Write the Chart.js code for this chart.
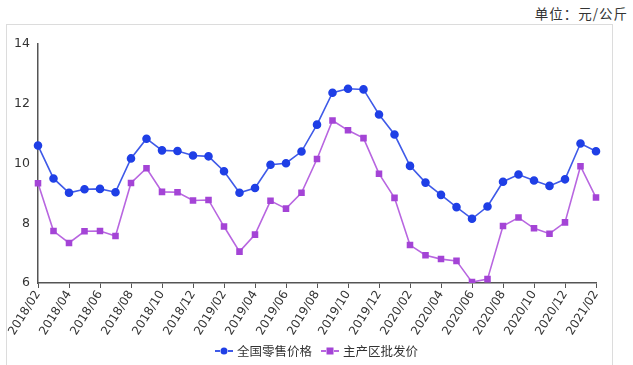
<!DOCTYPE html>
<html>
<head>
<meta charset="utf-8">
<script src="https://cdn.jsdelivr.net/npm/chart.js@4"></script>
<style>
  html, body { margin: 0; padding: 0; background: #fff; }
  #wrap { position: relative; width: 633px; height: 365px; overflow: hidden; }
  #frame { position: absolute; left: 6px; top: 24px; width: 607px; height: 360px; border: 1px solid #dcdcdc; box-sizing: border-box; }
  #unit { position: absolute; right: 5px; top: 3px; font: 13.5px "Noto Sans CJK SC", sans-serif; color: #333; letter-spacing: 1px; }
  canvas { position: absolute; left: 0; top: 0; }
</style>
</head>
<body>
<div id="wrap">
  <div id="frame"></div>
  <div id="unit">单位：元/公斤</div>
  <canvas id="c" width="633" height="365"></canvas>
</div>
<script>
// months 2018/02 .. 2021/02
const months = [
  "2018/02","2018/03","2018/04","2018/05","2018/06","2018/07","2018/08","2018/09","2018/10","2018/11","2018/12",
  "2019/01","2019/02","2019/03","2019/04","2019/05","2019/06","2019/07","2019/08","2019/09","2019/10","2019/11","2019/12",
  "2020/01","2020/02","2020/03","2020/04","2020/05","2020/06","2020/07","2020/08","2020/09","2020/10","2020/11","2020/12",
  "2021/01","2021/02"
];
const retail = [10.60, 9.50, 9.02, 9.14, 9.15, 9.04, 10.17, 10.83, 10.44, 10.42, 10.27,
  10.24, 9.74, 9.02, 9.18, 9.96, 10.01, 10.40, 11.30, 12.37, 12.50, 12.48, 11.64,
  10.97, 9.92, 9.36, 8.95, 8.54, 8.15, 8.56, 9.39, 9.63, 9.43, 9.25, 9.47,
  10.67, 10.41];
const wholesale = [9.34, 7.74, 7.34, 7.73, 7.74, 7.57, 9.35, 9.84, 9.05, 9.04, 8.76,
  8.78, 7.89, 7.05, 7.62, 8.75, 8.49, 9.02, 10.15, 11.44, 11.11, 10.85, 9.66,
  8.85, 7.27, 6.93, 6.80, 6.74, 6.03, 6.13, 7.91, 8.19, 7.83, 7.65, 8.03,
  9.91, 8.86];
const yTicks = [6, 8, 10, 12, 14];

const BLUE = "#1f3fe6", BLUE_LINE = "#3f5ae8";
const PURPLE = "#a444d6", PURPLE_LINE = "#b866e0";

// legend drawn by hand so it shows line + marker
const bottomLegend = {
  id: "bottomLegend",
  afterDraw(chart) {
    const c = chart.ctx;
    const items = [
      { text: "全国零售价格", line: BLUE_LINE, fill: BLUE, style: "circle" },
      { text: "主产区批发价", line: PURPLE_LINE, fill: PURPLE, style: "rect" }
    ];
    const y = 351;
    let x = 215;
    c.save();
    c.font = '12.5px "Noto Sans CJK SC", sans-serif';
    c.textBaseline = "middle";
    items.forEach(it => {
      c.strokeStyle = it.line;
      c.lineWidth = 2;
      c.beginPath(); c.moveTo(x, y); c.lineTo(x + 5, y); c.stroke();
      c.beginPath(); c.moveTo(x + 13, y); c.lineTo(x + 18, y); c.stroke();
      c.fillStyle = it.fill;
      if (it.style === "circle") {
        c.beginPath(); c.arc(x + 9, y, 3.5, 0, Math.PI * 2); c.fill();
      } else {
        c.fillRect(x + 5.5, y - 3.5, 7, 7);
      }
      c.fillStyle = "#333";
      c.fillText(it.text, x + 22, y);
      x += 22 + c.measureText(it.text).width + 9;
    });
    c.restore();
  }
};

new Chart(document.getElementById("c"), {
  type: "line",
  data: {
    labels: months,
    datasets: [
      { label: "全国零售价格", data: retail, borderColor: BLUE_LINE, backgroundColor: BLUE,
        pointBackgroundColor: BLUE, pointBorderColor: BLUE, pointStyle: "circle",
        pointRadius: 3.5, borderWidth: 1.6, tension: 0 },
      { label: "主产区批发价", data: wholesale, borderColor: PURPLE_LINE, backgroundColor: PURPLE,
        pointBackgroundColor: PURPLE, pointBorderColor: PURPLE, pointStyle: "rect",
        pointRadius: 3.5, borderWidth: 1.6, tension: 0 }
    ]
  },
  options: {
    responsive: false,
    animation: false,
    layout: { padding: { left: 0, right: 37, top: 44, bottom: 0 } },
    plugins: { legend: { display: false }, tooltip: { enabled: false } },
    scales: {
      x: {
        offset: false,
        grid: { display: true, drawOnChartArea: false, drawTicks: true, tickLength: 5, color: "#555" },
        border: { display: true, color: "#555", width: 1.5 },
        ticks: {
          autoSkip: false, maxRotation: 58, minRotation: 58, padding: 0,
          color: "#333", font: { family: "DejaVu Sans", size: 12 },
          callback: function (v, i) { return i % 2 === 0 ? months[i] : null; }
        },
        afterFit(s) { s.height = 82; }
      },
      y: {
        min: 6, max: 14,
        afterBuildTicks(s) { s.ticks = yTicks.map(v => ({ value: v })); },
        grid: { display: false, drawTicks: false },
        border: { display: true, color: "#555", width: 1.5 },
        ticks: { padding: 8, color: "#333", font: { family: "DejaVu Sans", size: 12.5 } },
        afterFit(s) { s.width = 38; }
      }
    }
  },
  plugins: [bottomLegend]
});
</script>
</body>
</html>
